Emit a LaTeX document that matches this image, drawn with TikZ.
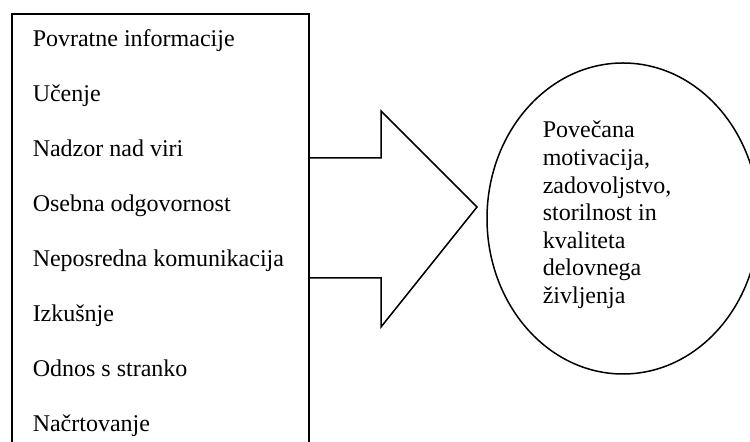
\documentclass[tikz,border=0pt]{standalone}
\usepackage{fontspec}
\setmainfont{Liberation Serif}
\usetikzlibrary{shapes.geometric}
\begin{document}
\begin{tikzpicture}[x=0.5pt,y=-0.5pt,
  line width=0.75pt, line join=miter,
  item/.style={anchor=base west, inner sep=0pt, font=\fontsize{12}{13.8}\selectfont},
  outcome/.style={draw, ellipse, inner sep=0pt, minimum width=136pt, minimum height=155.5pt},
  goaltext/.style={anchor=base west, inner sep=0pt, align=left, font=\fontsize{12}{13.8}\selectfont}]
\useasboundingbox (0,0) rectangle (750,442);
\clip (0,0) rectangle (750,442);

% list of factors (box runs past the lower edge)
\draw (12,460) -- (12,14) -- (309,14) -- (309,460);
\node[item] (i1) at (32,47)  {Povratne informacije};
\node[item] (i2) at (32,102) {Učenje};
\node[item] (i3) at (32,157) {Nadzor nad viri};
\node[item] (i4) at (32,212) {Osebna odgovornost};
\node[item] (i5) at (32,267) {Neposredna komunikacija};
\node[item] (i6) at (32,322) {Izkušnje};
\node[item] (i7) at (32,377) {Odnos s stranko};
\node[item] (i8) at (32,432) {Načrtovanje};

% block arrow
\draw (309,158) -- (381,158) -- (381,111) -- (477,207) -- (381,327) -- (381,278) -- (309,278);

% outcome (anchored at the baseline of its last line)
\node[outcome] (goal) at (623,218.5) {};
\node[goaltext] (gt) at (542,303.6) {Povečana\\motivacija,\\zadovoljstvo,\\storilnost in\\kvaliteta\\delovnega\\življenja};
\end{tikzpicture}
\end{document}
